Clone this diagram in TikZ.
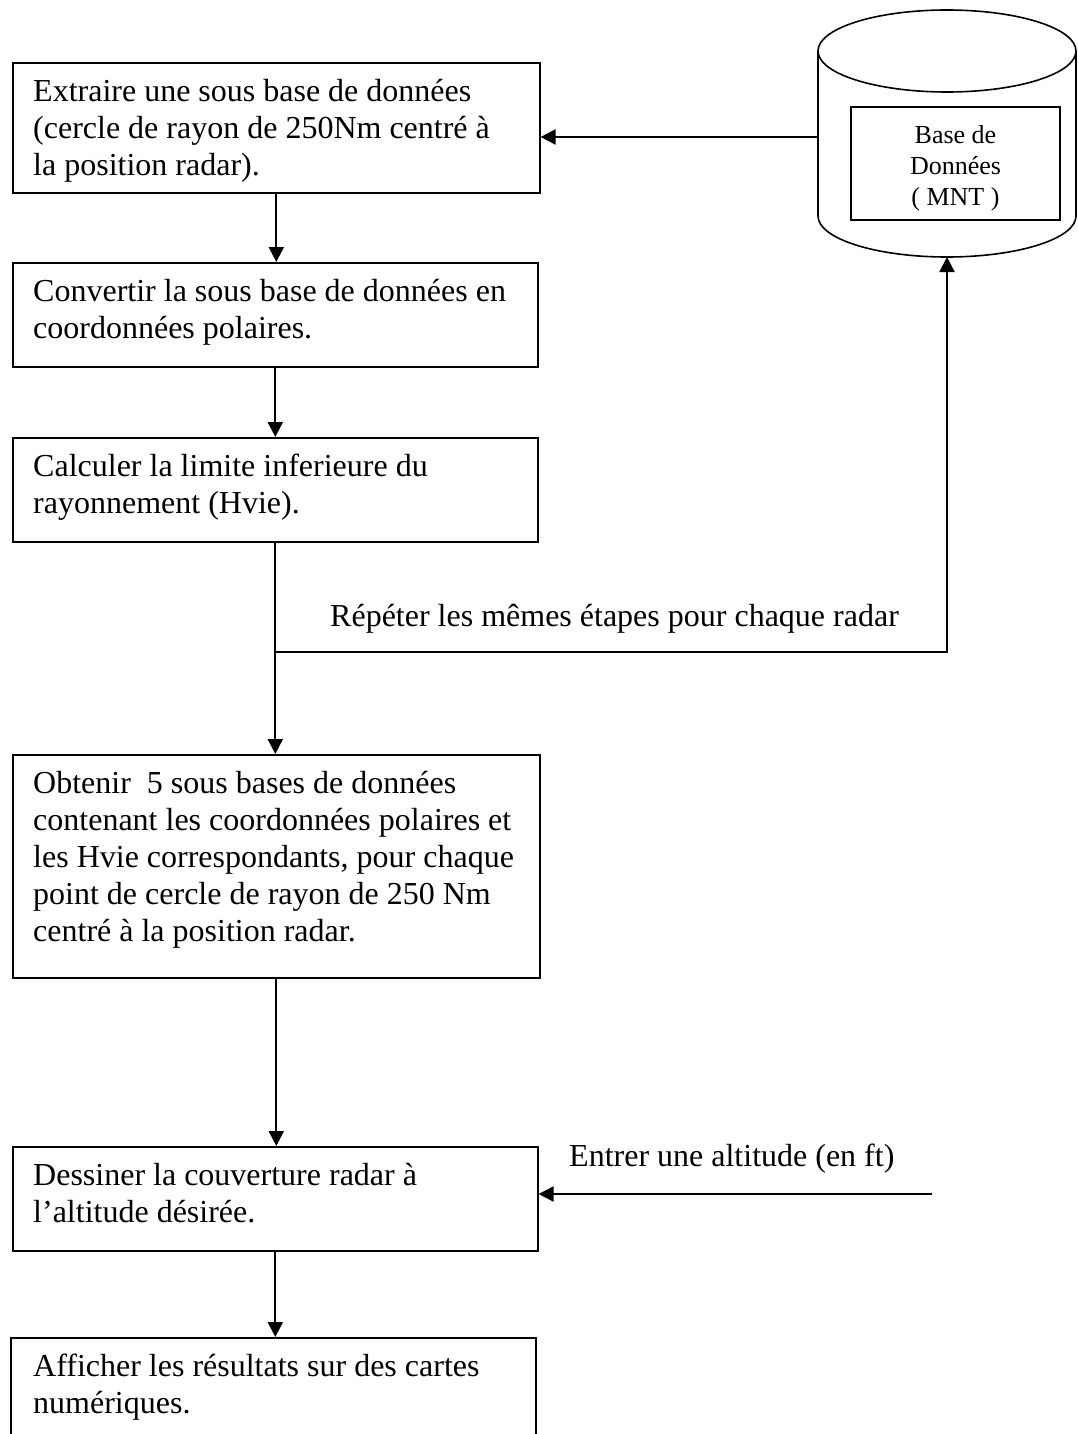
\documentclass[tikz,border=0pt]{standalone}
\usepackage{fontspec}
\setmainfont{Liberation Serif}
\usetikzlibrary{arrows.meta,calc}
\begin{document}
\begin{tikzpicture}[x=1pt,y=-1pt,
  stepbox/.style={draw=black, line width=1.6pt, rectangle, anchor=north west, inner sep=0pt},
  txt/.style={anchor=north west, inner sep=0pt, align=left, font=\fontsize{32}{37}\selectfont},
  lbl/.style={anchor=base west, inner sep=0pt, font=\fontsize{32}{37}\selectfont},
  arr/.style={line width=2pt, -{Triangle[length=15pt,width=15pt]}},
  cyl/.style={line width=1.6pt}
]
\useasboundingbox (0,0) rectangle (1078,1434);
\clip (0,0) rectangle (1078,1434);

% process boxes
\node[stepbox, minimum width=527pt, minimum height=130pt] (b1) at (12,62) {};
\node[stepbox, minimum width=525pt, minimum height=104pt] (b2) at (12,262) {};
\node[stepbox, minimum width=525pt, minimum height=104pt] (b3) at (12,437) {};
\node[stepbox, minimum width=527pt, minimum height=223pt] (b4) at (12,754) {};
\node[stepbox, minimum width=525pt, minimum height=104pt] (b5) at (12,1146) {};
\node[stepbox, minimum width=525pt, minimum height=130pt] (b6) at (10,1337) {};

% box texts
\node[txt] (t1) at (33,75) {\strut Extraire une sous base de données\\(cercle de rayon de 250Nm centré à\\la position radar).};
\node[txt] (t2) at (33,275) {\strut Convertir la sous base de données en\\coordonnées polaires.};
\node[txt] (t3) at (33,450) {\strut Calculer la limite inferieure du\\rayonnement (Hvie).};
\node[txt] (t4) at (33,767) {\strut Obtenir\ \ 5 sous bases de données\\contenant les coordonnées polaires et\\les Hvie correspondants, pour chaque\\point de cercle de rayon de 250 Nm\\centré à la position radar.};
\node[txt] (t5) at (33,1159) {\strut Dessiner la couverture radar à\\l’altitude désirée.};
\node[txt] (t6) at (33,1350) {\strut Afficher les résultats sur des cartes\\numériques.};

% database cylinder
\draw[cyl] (947,51) ellipse [x radius=129, y radius=41];
\draw[cyl] (818,51) -- (818,216) arc[start angle=180, end angle=0, x radius=129, y radius=41] -- (1076,51);
\node[draw, line width=1.4pt, minimum width=209pt, minimum height=113pt, inner sep=0pt,
      align=center, font=\fontsize{26}{31}\selectfont] (db) at (955.5,163.5)
      {\rule{0pt}{28pt}Base de\\Données\\( MNT )};
\coordinate (dbleft) at (818,137);
\coordinate (dbbot) at (947,257);

% main flow
\draw[arr] (dbleft) -- (dbleft -| b1.east);
\draw[arr] (b1.south) -- (b1.south |- b2.north);
\draw[arr] (b2.south) -- (b2.south |- b3.north);
\draw[arr] (b3.south) -- (b3.south |- b4.north);
\draw[arr] (b4.south) -- (b4.south |- b5.north);
\draw[arr] (b5.south) -- (b5.south |- b6.north);

% loop back to the database
\coordinate (jl) at (b3.south |- 0,652);
\coordinate (jr) at (947,652);
\draw[arr] (jl) -- (jr) -- (dbbot);
\node[lbl] (rep) at (330,626) {Répéter les mêmes étapes pour chaque radar};

% altitude input
\coordinate (inp) at (932,1194);
\draw[arr] (inp) -- (inp -| b5.east);
\node[lbl] (alt) at (569,1166) {Entrer une altitude (en ft)};
\end{tikzpicture}
\end{document}
